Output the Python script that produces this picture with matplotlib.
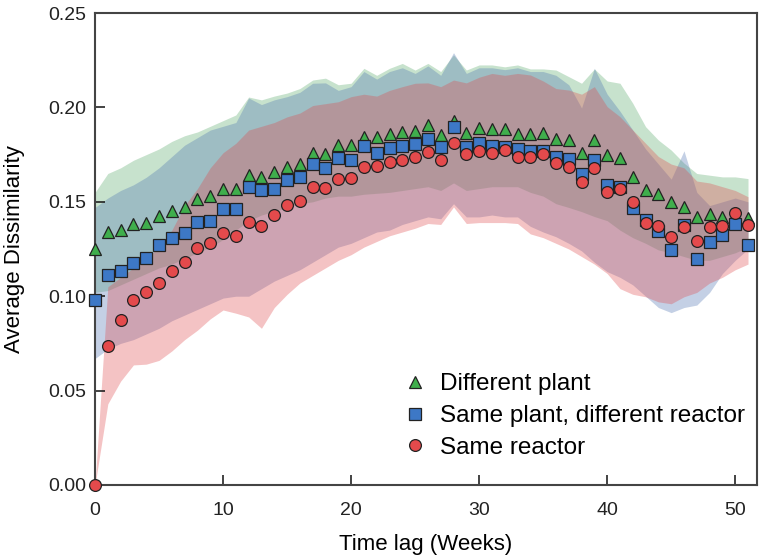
import matplotlib
matplotlib.use('Agg')
import matplotlib.pyplot as plt
import numpy as np

plt.rcParams['font.family'] = ['Liberation Sans', 'DejaVu Sans']

weeks = np.arange(52)

# mean dissimilarity per time lag
diff_plant = [0.125, 0.134, 0.135, 0.138, 0.139, 0.1425, 0.145, 0.147, 0.1515, 0.153,
              0.157, 0.157, 0.164, 0.163, 0.166, 0.1685, 0.170, 0.176, 0.1753, 0.180,
              0.180, 0.1845, 0.1845, 0.1857, 0.187, 0.1875, 0.1905, 0.1854, 0.193, 0.1866,
              0.189, 0.1884, 0.1884, 0.1858, 0.1858, 0.1866, 0.1831, 0.1827, 0.176, 0.1827,
              0.1748, 0.173, 0.1633, 0.1563, 0.1541, 0.1497, 0.1471, 0.1421, 0.1435, 0.1418,
              0.142, 0.1416]
same_plant = [0.098, 0.111, 0.1133, 0.1178, 0.1204, 0.127, 0.131, 0.1337, 0.1395, 0.140,
              0.146, 0.146, 0.158, 0.156, 0.157, 0.1615, 0.163, 0.170, 0.1677, 0.1734,
              0.172, 0.1797, 0.1757, 0.1787, 0.1796, 0.1806, 0.1831, 0.1789, 0.1895, 0.1792,
              0.1813, 0.1796, 0.1792, 0.1778, 0.1769, 0.1769, 0.1739, 0.1725, 0.1648, 0.1721,
              0.1589, 0.158, 0.1466, 0.1404, 0.1347, 0.1245, 0.1377, 0.1197, 0.1289, 0.1324,
              0.1382, 0.1271]
same_reactor = [0.0, 0.0738, 0.0872, 0.0978, 0.1024, 0.1072, 0.1133, 0.118, 0.1254, 0.128,
                0.1337, 0.1319, 0.1391, 0.1372, 0.143, 0.1483, 0.1506, 0.1577, 0.1571, 0.1622,
                0.1624, 0.1686, 0.169, 0.1712, 0.1721, 0.1737, 0.1765, 0.1721, 0.1813, 0.1753,
                0.1771, 0.1757, 0.1774, 0.1739, 0.1736, 0.1753, 0.1704, 0.1686, 0.1604, 0.1677,
                0.1554, 0.1566, 0.150, 0.1389, 0.1372, 0.1312, 0.1368, 0.1294, 0.1368, 0.1372,
                0.1439, 0.1377]

# band limits
diff_plant_hi = [0.155, 0.165, 0.168, 0.172, 0.175, 0.178, 0.182, 0.185, 0.187, 0.190,
                 0.193, 0.196, 0.2055, 0.204, 0.206, 0.2076, 0.210, 0.2145, 0.2155, 0.212,
                 0.2128, 0.2207, 0.217, 0.2207, 0.2233, 0.2198, 0.2233, 0.219, 0.2278, 0.2198,
                 0.2225, 0.2225, 0.2215, 0.2225, 0.2204, 0.2204, 0.2198, 0.2163, 0.2128, 0.2204,
                 0.214, 0.2128, 0.2022, 0.1898, 0.1827, 0.1774, 0.1705, 0.165, 0.1641, 0.1632,
                 0.1632, 0.1623]
diff_plant_lo = [0.102, 0.103, 0.106, 0.109, 0.112, 0.115, 0.117, 0.120, 0.123, 0.126,
                 0.130, 0.135, 0.140, 0.143, 0.145, 0.147, 0.149, 0.150, 0.152, 0.153,
                 0.153, 0.154, 0.1545, 0.155, 0.156, 0.157, 0.158, 0.156, 0.160, 0.156,
                 0.157, 0.158, 0.158, 0.158, 0.155, 0.153, 0.149, 0.147, 0.1448, 0.1422,
                 0.140, 0.135, 0.131, 0.128, 0.1245, 0.123, 0.121, 0.119, 0.119, 0.121,
                 0.123, 0.126]
same_plant_hi = [0.147, 0.152, 0.156, 0.159, 0.163, 0.168, 0.174, 0.180, 0.184, 0.188,
                 0.190, 0.192, 0.205, 0.2015, 0.204, 0.2057, 0.208, 0.2128, 0.213, 0.209,
                 0.211, 0.219, 0.215, 0.219, 0.221, 0.218, 0.222, 0.217, 0.229, 0.218,
                 0.221, 0.221, 0.220, 0.221, 0.219, 0.219, 0.217, 0.212, 0.1997, 0.2207,
                 0.207, 0.198, 0.188, 0.178, 0.170, 0.162, 0.177, 0.155, 0.148, 0.150,
                 0.152, 0.150]
same_plant_lo = [0.067, 0.072, 0.075, 0.077, 0.080, 0.083, 0.087, 0.090, 0.093, 0.096,
                 0.099, 0.100, 0.100, 0.104, 0.108, 0.111, 0.114, 0.118, 0.122, 0.126,
                 0.128, 0.131, 0.134, 0.135, 0.138, 0.140, 0.142, 0.141, 0.149, 0.142,
                 0.142, 0.143, 0.142, 0.142, 0.137, 0.134, 0.1315, 0.128, 0.124, 0.118,
                 0.113, 0.110, 0.106, 0.100, 0.094, 0.0913, 0.094, 0.0953, 0.102, 0.112,
                 0.119, 0.125]
same_reactor_hi = [0.0, 0.105, 0.110, 0.115, 0.120, 0.126, 0.135, 0.148, 0.157, 0.168,
                   0.176, 0.181, 0.188, 0.190, 0.192, 0.195, 0.197, 0.201, 0.202, 0.203,
                   0.2057, 0.207, 0.206, 0.209, 0.211, 0.2128, 0.213, 0.211, 0.2145, 0.213,
                   0.216, 0.218, 0.217, 0.218, 0.2172, 0.214, 0.210, 0.2092, 0.207, 0.211,
                   0.2004, 0.1951, 0.188, 0.181, 0.174, 0.170, 0.168, 0.161, 0.160, 0.158,
                   0.156, 0.1527]
same_reactor_lo = [0.0, 0.043, 0.055, 0.0636, 0.064, 0.066, 0.071, 0.077, 0.082, 0.088,
                   0.0927, 0.091, 0.089, 0.083, 0.094, 0.101, 0.107, 0.111, 0.115, 0.119,
                   0.122, 0.126, 0.129, 0.132, 0.134, 0.136, 0.1385, 0.138, 0.1473, 0.1385,
                   0.139, 0.139, 0.139, 0.1385, 0.133, 0.131, 0.128, 0.125, 0.121, 0.117,
                   0.112, 0.104, 0.101, 0.0997, 0.097, 0.096, 0.0997, 0.102, 0.107, 0.110,
                   0.114, 0.117]

labels = ['Different plant', 'Same plant, different reactor', 'Same reactor']
band_colors = ['#55a868', '#4c72b0', '#e0494c']
marker_colors = ['#3fae4c', '#3d78c6', '#e44a4c']
markers = ['^', 's', 'o']

fig = plt.figure(figsize=(7.62, 5.59), dpi=100)
ax = fig.add_axes([0.1247, 0.1324, 0.8687, 0.8443])

means = [diff_plant, same_plant, same_reactor]
his = [diff_plant_hi, same_plant_hi, same_reactor_hi]
los = [diff_plant_lo, same_plant_lo, same_reactor_lo]

for lo, hi, c in zip(los, his, band_colors):
    ax.fill_between(weeks, lo, hi, color=c, alpha=0.33, linewidth=0)

for m, mk, c, lab in zip(means, markers, marker_colors, labels):
    ax.plot(weeks, m, linestyle='none', marker=mk, markersize=8.5 if mk != 's' else 8,
            markerfacecolor=c, markeredgecolor='#222222', markeredgewidth=0.9,
            label=lab, clip_on=False, zorder=3)

ax.set_xlim(0, 51.7)
ax.set_ylim(0, 0.25)
ax.set_xticks([0, 10, 20, 30, 40, 50])
ax.set_yticks([0.0, 0.05, 0.10, 0.15, 0.20, 0.25])
ax.set_yticklabels(['0.00', '0.05', '0.10', '0.15', '0.20', '0.25'])
ax.tick_params(direction='in', length=7, width=1.2, labelsize=14, colors='#222222')
ax.tick_params(axis='y', pad=6)
ax.tick_params(axis='x', pad=12)
ax.tick_params(top=False, right=False)
for s in ax.spines.values():
    s.set_linewidth(1.5)
    s.set_color('#444444')

ax.set_xlabel('Time lag (Weeks)', fontsize=16, labelpad=11)
ax.set_ylabel('Average Dissimilarity', fontsize=16, labelpad=17)

ax.legend(loc='lower left', bbox_to_anchor=(0.44, 0.035), frameon=False, fontsize=17.5,
          handletextpad=0.2, handlelength=1.6, labelspacing=0.4, borderaxespad=0)

fig.savefig('out.png', dpi=100)
